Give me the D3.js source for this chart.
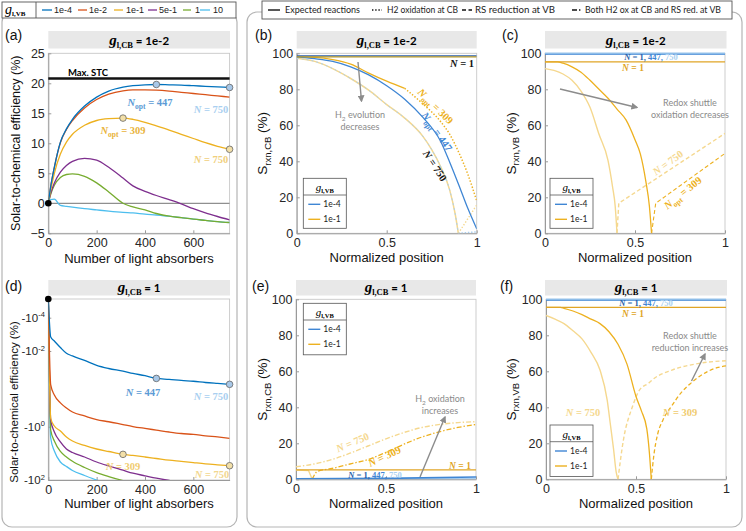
<!DOCTYPE html>
<html><head><meta charset="utf-8">
<script src="https://cdn.jsdelivr.net/npm/d3@7"></script>
<style>html,body{margin:0;padding:0;background:#fff;}svg{display:block;}</style>
</head><body>
<script>
// ================= DATA =================
const gVBLevels = ["1e-4","1e-2","1e-1","5e-1","1","10"];
const nAbs = [0,10,25,50,75,100,150,200,250,309,350,400,447,500,550,600,650,700,750];
// (a) STC efficiency (%) vs number of absorbers, g_l,CB = 1e-2
const stcA_1e4 = [0,2.8,6.0,10.2,12.4,14.0,16.2,17.7,18.7,19.35,19.6,19.75,19.8,19.75,19.7,19.6,19.5,19.4,19.3];
const stcA_1e2 = [0,2.8,6.0,10.1,12.3,13.8,15.9,17.3,18.2,18.75,18.9,18.9,18.85,18.7,18.5,18.3,18.1,17.9,17.7];
const stcA_1e1 = [0,2.2,5.0,8.2,10.2,11.5,13.0,13.8,14.1,14.2,14.0,13.5,12.9,12.2,11.5,10.8,10.1,9.5,9.0];
const stcA_5e1 = [0,1.7,3.4,5.2,6.3,7.0,7.5,7.2,6.0,4.2,2.9,2.0,1.3,0.6,-0.1,-0.9,-1.6,-2.2,-2.75];
const stcA_1   = [0,1.5,3.0,4.3,4.8,4.9,4.5,3.4,1.9,0,-0.6,-1.1,-1.7,-2.15,-2.4,-2.65,-2.85,-3.05,-3.2];
const stcA_10  = [0,0.6,0.7,-0.35,-0.5,-0.65,-0.9,-1.1,-1.3,-1.5,-1.6,-1.8,-1.95,-2.15,-2.4,-2.65,-2.85,-3.05,-3.2];
const maxSTC = 20.8;
// (d) STC efficiency (%) vs number of absorbers, g_l,CB = 1
const stcD_1e4 = [0,-1.45e-3,-2.5e-3,-6.2e-3,-1.15e-2,-1.35e-2,-1.78e-2,-2.4e-2,-2.9e-2,-3.4e-2,-3.9e-2,-4.5e-2,-5.3e-2,-5.6e-2,-6.0e-2,-6.3e-2,-6.8e-2,-7.2e-2,-7.6e-2];
const stcD_1e2 = [0,-0.079,-0.145,-0.234,-0.32,-0.41,-0.52,-0.65,-0.74,-0.88,-0.99,-1.16,-1.34,-1.58,-1.8,-1.95,-2.2,-2.43,-2.72];
const stcD_1e1 = [0,-0.6,-0.96,-1.45,-2.43,-3.44,-5.07,-6.87,-8.53,-10.9,-12.0,-13.7,-15.6,-18.1,-19.9,-22.2,-24.7,-26.9,-29.1];
const stcD_5e1 = [0,-0.67,-1.58,-3.75,-6.87,-9.3,-13.7,-21.1,-29.8,-43,-55.6,-69.5,-85.5,-104,-124,-145,-168,-191,-218];
const stcD_1   = [0,-1.33,-3.44,-8.5,-13.7,-19.9,-34,-52.7,-74,-105,-129,-160,-193,-235,-282,-333,-382,-436,-494];
const stcD_10  = [0,-2.65,-8.2,-21.1,-31.1,-44,-67.7,-100,-135,-183,-218,-270,-323,-382,-447,-513,-588,-673,-762];
// marked points [N, value, series]
const markA = [[447,19.8,"b"],[750,19.3,"b"],[309,14.2,"y"],[750,9.0,"y"]];
const markD = [[447,-5.3e-2,"b"],[750,-7.6e-2,"b"],[309,-10.9,"y"],[750,-29.1,"y"]];
// ticks
const nTicks = [0,200,400,600];
const aTicks = [-5,0,5,10,15,20,25];
const dTickExp = [-4,-2,0,2];
const posTicks = [0,0.5,1];
const pctTicks = [0,20,40,60,80,100];
// (b) S_rxn,CB vs normalized position, g_l,CB = 1e-2  [pos, %]
const bN1_1e4 = [[0,98.6],[1,98.6]];
const bN1_1e1 = [[0,98.0],[1,98.0]];
const bOpt_1e4 = [[0,98],[0.1,97],[0.2,95.5],[0.3,92.5],[0.4,88],[0.5,82],[0.6,74.5],[0.7,64.5],[0.8,51],[0.85,39.5],[0.9,27],[0.95,14],[1,2.5]];
const bOpt_1e1 = [[0,98],[0.1,97.7],[0.2,96.5],[0.3,94],[0.4,89],[0.5,84.5],[0.6,80.5]];
const bOpt_1e1_ox = [[0.6,80.5],[0.7,72],[0.8,62],[0.85,55],[0.9,45],[0.95,33],[1,18]];
const bN750 = [[0,97.2],[0.1,95.5],[0.2,91.5],[0.3,86],[0.4,79.5],[0.5,71.5],[0.6,64],[0.7,54],[0.75,46.5],[0.8,37],[0.85,24],[0.88,11],[0.898,0]];
const bN750_1e1_ox = [[0.898,0],[1,15.7]];
const bN750_1e4_ox = [[0.898,0],[1,0.8]];
// (c) S_rxn,VB, g_l,CB = 1e-2
const cTop_750 = [[0,100],[1,100]];
const cTop_447 = [[0,99.5],[1,99.5]];
const cN1_1e1 = [[0,95.2],[1,95.2]];
const cOpt_1e1 = [[0,95.2],[0.07,95.2],[0.1,94.5],[0.15,92.5],[0.2,89.5],[0.25,85],[0.3,80],[0.35,75],[0.4,69],[0.45,63],[0.5,52],[0.53,44],[0.56,29],[0.58,15],[0.592,0]];
const cOpt_1e1_red = [[0.592,0],[0.615,16.7],[1,44.4]];
const c750_1e1 = [[0,91.5],[0.05,90.5],[0.1,88.5],[0.15,85],[0.2,79],[0.25,70],[0.3,55],[0.35,40.5],[0.375,26],[0.39,15],[0.4,0]];
const c750_1e1_red = [[0.4,0],[0.41,16.7],[1,55.5]];
// (e) S_rxn,CB, g_l,CB = 1
const eN1_1e4 = [[0,0.3],[0.5,0.5],[1,1.3]];
const e750_1e4 = [[0,0.1],[1,0.3]];
const eN1_1e1 = [[0,5.2],[1,5.2]];
const e750_1e1 = [[0,7],[0.1,8.5],[0.2,11],[0.3,14.5],[0.4,18.5],[0.5,22.5],[0.6,26],[0.7,28.8],[0.8,30.5],[0.9,31.5],[1,32]];
const e309_1e1 = [[0,5.2],[0.07,4.8],[0.09,0]];
const e309_1e1_both = [[0.09,0],[0.12,4.5],[0.2,6],[0.3,8.5],[0.4,11],[0.5,15],[0.6,19.5],[0.7,23.5],[0.8,26.5],[0.9,28.8],[1,30.5]];
// (f) S_rxn,VB, g_l,CB = 1
const fTop_750 = [[0,100],[1,100]];
const fTop_447 = [[0,99.5],[1,99.5]];
const fN1_1e1 = [[0,95.5],[1,95.5]];
const f309_1e1 = [[0,95.5],[0.08,95.5],[0.1,95],[0.15,93.5],[0.2,91.5],[0.25,89],[0.3,86.5],[0.35,82],[0.4,75],[0.45,64],[0.5,46],[0.53,38],[0.56,28],[0.575,14],[0.585,0]];
const f309_1e1_red = [[0.585,0],[0.6,14],[0.62,25],[0.65,33],[0.7,41],[0.75,48],[0.8,53],[0.85,57],[0.9,60],[0.95,62],[1,63]];
const f750_1e1 = [[0,91],[0.05,89],[0.1,86.5],[0.15,82.5],[0.2,78],[0.25,70.5],[0.3,60.7],[0.34,44],[0.357,31],[0.375,17],[0.39,4],[0.4,0]];
const f750_1e1_red = [[0.4,0],[0.43,21.8],[0.48,40.3],[0.52,49.7],[0.57,53.4],[0.6,56],[0.7,60.7],[0.85,64.4],[1,65.9]];

// ================= STYLE =================
const FS = "'Liberation Sans', Arial, Helvetica, sans-serif";
const FL = "Lato, 'Open Sans', sans-serif";
const FSER = "'Liberation Serif', 'DejaVu Serif', serif";
const matlab = ["#0072BD","#D95319","#EDB120","#7E2F8E","#77AC30","#4DBEEE"];
const C = {bDark:"#2a5ea8", b:"#3f86d4", bLight:"#a9cff0", yDark:"#e0a526", y:"#EDB120", yLight:"#f5d88f", gray:"#8c8c8c"};
const DOT="1.4,1.8", DASH="4,2.5", DASHDOT="5,2,1.4,2";

const svg = d3.select("body").append("svg").attr("width",746).attr("height",531);
const defs = svg.append("defs");
defs.append("marker").attr("id","arr").attr("viewBox","0 0 10 10").attr("refX",8).attr("refY",5)
  .attr("markerWidth",5).attr("markerHeight",5).attr("orient","auto")
  .append("path").attr("d","M0,0L10,5L0,10z").attr("fill",C.gray);

function rich(g, x, y, parts, o={}) {
  const t = g.append("text").attr("x",x).attr("y",y).attr("text-anchor",o.anchor||"middle")
    .attr("fill",o.color||"#000").style("font-size",(o.size||11)+"px").style("font-family",o.family||FS)
    .style("font-weight",o.weight||"normal");
  if (o.rotate) t.attr("transform",`rotate(${o.rotate},${x},${y})`);
  parts.forEach(p => {
    const s = t.append("tspan").text(p.t);
    if (p.style) s.style("font-style",p.style);
    if (p.weight) s.style("font-weight",p.weight);
    if (p.family) s.style("font-family",p.family);
    if (p.size) s.style("font-size",p.size+"px");
    if (p.dy!==undefined) s.attr("dy",p.dy);
    if (p.fill) s.attr("fill",p.fill);
  });
  return t;
}
function labelN(g, cx, cy, sub, rest, color, o={}) {
  const sz=o.size||10.5;
  const parts=[{t:"N",style:"italic"}];
  if (sub) { parts.push({t:sub,size:sz*0.72,dy:sz*0.3}); parts.push({t:rest,dy:-sz*0.3}); }
  else parts.push({t:rest});
  return rich(g, cx, cy+sz*0.35, parts, {color, size:sz, family:FSER, weight:"bold", rotate:o.rotate, anchor:o.anchor});
}

// ---------- frames ----------
svg.append("rect").attr("x",2).attr("y",12).attr("width",235).attr("height",515).attr("rx",10)
  .attr("fill","none").attr("stroke","#b5b5b5").attr("stroke-width",1.2);
svg.append("rect").attr("x",247).attr("y",12).attr("width",495).attr("height",515).attr("rx",10)
  .attr("fill","none").attr("stroke","#b5b5b5").attr("stroke-width",1.2);

// ---------- top-left legend ----------
{
  const g = svg.append("g");
  g.append("rect").attr("x",2).attr("y",2).attr("width",234).attr("height",16).attr("fill","#fff").attr("stroke","#555").attr("stroke-width",0.9);
  rich(g, 5, 14, [{t:"g",style:"italic",family:FSER,size:14},{t:"l,VB",size:7,dy:2,weight:"bold",family:FSER}], {anchor:"start"});
  g.append("line").attr("x1",36).attr("x2",36).attr("y1",2).attr("y2",18).attr("stroke","#555").attr("stroke-width",0.9);
  const lx = [[42,52,54],[78,87,89],[114,123,126],[148,157,159],[183,191,195],[200,210,213]];
  gVBLevels.forEach((lab,i)=>{
    g.append("line").attr("x1",lx[i][0]).attr("x2",lx[i][1]).attr("y1",10).attr("y2",10).attr("stroke",matlab[i]).attr("stroke-width",1.3);
    g.append("text").attr("x",lx[i][2]).attr("y",13.3).text(lab).style("font-size","9px").style("font-family",FS).attr("fill","#222");
  });
}
// ---------- top-right legend ----------
{
  const g = svg.append("g");
  g.append("rect").attr("x",262).attr("y",1).attr("width",470).attr("height",18).attr("fill","#fff").attr("stroke","#555").attr("stroke-width",0.9);
  const items = [[268,280,285,"Expected reactions",null,75],[372,382,387,"H2 oxidation at CB",DOT,71],[462,472,475,"RS reduction at VB",DASH,80],[572,582,585,"Both H2 ox at CB and RS red. at VB",DASHDOT,136]];
  items.forEach(it=>{
    g.append("line").attr("x1",it[0]).attr("x2",it[1]).attr("y1",10).attr("y2",10).attr("stroke","#111").attr("stroke-width",1.4).attr("stroke-dasharray",it[4]);
    g.append("text").attr("x",it[2]).attr("y",13.2).text(it[3]).style("font-size","8.6px").style("font-family",FL).attr("fill","#222")
      .attr("textLength",it[5]).attr("lengthAdjust","spacingAndGlyphs");
  });
}

// ---------- panel helpers ----------
function titleBand(g, x0, x1, y0, y1, val) {
  g.append("rect").attr("x",x0).attr("y",y0).attr("width",x1-x0).attr("height",y1-y0).attr("fill","#e8e8e8");
  rich(g, (x0+x1)/2, y1-3.5, [
    {t:"g",style:"italic",family:FSER,size:15,weight:"bold"},
    {t:"l,CB",size:8.5,dy:2.5,weight:"bold",family:FSER},
    {t:" = "+val,dy:-2.5,weight:"bold",family:FL,size:11.5}], {});
}
function drawAxes(g, x, y, xT, yT, xFmt, yFmt, L, R, T, B) {
  g.append("rect").attr("x",L).attr("y",T).attr("width",R-L).attr("height",B-T).attr("fill","#fff").attr("stroke","#c8c8c8").attr("stroke-width",0.9);
  const ax = g.append("g").attr("transform",`translate(0,${B})`)
    .call(d3.axisBottom(x).tickValues(xT).tickFormat(xFmt).tickSizeInner(-3).tickSizeOuter(0).tickPadding(5));
  const ay = g.append("g").attr("transform",`translate(${L},0)`)
    .call(d3.axisLeft(y).tickValues(yT).tickFormat(yFmt).tickSizeInner(-3).tickSizeOuter(0).tickPadding(3.5));
  [ax,ay].forEach(a=>{
    a.select(".domain").attr("stroke","#9a9a9a");
    a.selectAll(".tick line").attr("stroke","#9a9a9a");
    a.selectAll("text").attr("fill","#262626").style("font-size","12.5px").style("font-family",FS);
  });
  return {ax,ay};
}
function clip(id, L, R, T, B) {
  defs.append("clipPath").attr("id",id).append("rect").attr("x",L).attr("y",T-1).attr("width",R-L).attr("height",B-T+1);
}
function line(g, data, x, y, color, o={}) {
  return g.append("path").datum(data)
    .attr("d", d3.line().x(d=>x(d[0])).y(d=>y(d[1])).curve(o.linear?d3.curveLinear:d3.curveMonotoneX))
    .attr("fill","none").attr("stroke",color).attr("stroke-width",o.w||1.3)
    .attr("stroke-dasharray",o.dash||null).attr("clip-path",o.clip?`url(#${o.clip})`:null);
}
function xLabel(g, cx, y, txt) {
  g.append("text").attr("x",cx).attr("y",y).attr("text-anchor","middle").text(txt)
    .style("font-size","13px").style("font-family",FS).attr("fill","#111");
}
function yLabelS(g, x, cy, sub) {
  rich(g, x, cy, [{t:"S"},{t:sub,size:9.5,dy:3.5},{t:" (%)",dy:-3.5}], {size:13.5, rotate:-90, color:"#111"});
}
function panelLabel(g, x, y, t) {
  g.append("text").attr("x",x).attr("y",y).text(t).style("font-size","14px").style("font-family",FS).attr("fill","#111");
}
function insetLegend(g, x, y, h) {
  g.append("rect").attr("x",x).attr("y",y).attr("width",43).attr("height",h).attr("fill","#fff").attr("stroke","#555").attr("stroke-width",0.8);
  rich(g, x+21.5, y+13, [{t:"g",style:"italic",family:FSER,size:11},{t:"l,VB",size:6.5,dy:2,weight:"bold",family:FSER}], {});
  g.append("line").attr("x1",x).attr("x2",x+43).attr("y1",y+16.7).attr("y2",y+16.7).attr("stroke","#555").attr("stroke-width",0.8);
  [[C.b,"1e-4",26],[C.y,"1e-1",41]].forEach(it=>{
    g.append("line").attr("x1",x+5).attr("x2",x+17).attr("y1",y+it[2]).attr("y2",y+it[2]).attr("stroke",it[0]).attr("stroke-width",1.4);
    g.append("text").attr("x",x+20).attr("y",y+it[2]+3).text(it[1]).style("font-size","8.5px").style("font-family",FL).attr("fill","#222");
  });
}
function arrow(g, x1, y1, x2, y2) {
  g.append("line").attr("x1",x1).attr("y1",y1).attr("x2",x2).attr("y2",y2).attr("stroke",C.gray).attr("stroke-width",1.4).attr("marker-end","url(#arr)");
}
function note(g, cx, cy, lines) {
  lines.forEach((ln,i)=>{
    const t = g.append("text").attr("x",cx).attr("y",cy+i*11.5).attr("text-anchor","middle").style("font-size","9px").style("font-family",FL).attr("fill","#8a8a8a");
    ln.forEach(p=>{ const s=t.append("tspan").text(p.t); if(p.dy!==undefined) s.attr("dy",p.dy); if(p.size) s.style("font-size",p.size+"px"); });
  });
}
function topBlueLabel(g, cx, cy) {
  const sz=8.5;
  rich(g, cx, cy+sz*0.35, [{t:"N",style:"italic",fill:C.bDark},{t:" = 1,",fill:C.bDark},{t:" 447,",fill:C.b},{t:" 750",fill:C.bLight}],
    {size:sz, family:FSER, weight:"bold"});
}

// ================= PANEL (a) =================
{
  const g = svg.append("g");
  const L=48.3,R=229.6,T=53.3,B=233.3;
  const x = d3.scaleLinear().domain([0,750]).range([L,R]);
  const y = d3.scaleLinear().domain([-5,25]).range([B,T]);
  panelLabel(g, 5, 40, "(a)");
  titleBand(g, L, R+0.4, 31, 48.5, "1e-2");
  drawAxes(g, x, y, nTicks, aTicks, d3.format("d"), d3.format("d"), L, R, T, B);
  clip("clipA", L, R, T, B);
  g.append("line").attr("x1",L).attr("x2",R).attr("y1",y(0)).attr("y2",y(0)).attr("stroke","#8f8f8f").attr("stroke-width",1.2);
  g.append("line").attr("x1",L).attr("x2",R).attr("y1",y(maxSTC)).attr("y2",y(maxSTC)).attr("stroke","#111").attr("stroke-width",2.4);
  g.append("text").attr("x",88).attr("y",y(maxSTC)-3).attr("text-anchor","middle").text("Max. STC").style("font-size","9.5px").style("font-weight","bold").style("font-family",FL);
  const series = [stcA_1e4,stcA_1e2,stcA_1e1,stcA_5e1,stcA_1,stcA_10];
  [5,4,3,1,2,0].forEach(i=>{ line(g, nAbs.map((n,k)=>[n,series[i][k]]), x, y, matlab[i], {clip:"clipA"}); });
  markA.forEach(m=>{
    g.append("circle").attr("cx",x(m[0])).attr("cy",y(m[1])).attr("r",3.3)
      .attr("fill",m[2]==="b"?"#a8c8e8":"#f2dfa8").attr("stroke","#666").attr("stroke-width",0.8);
  });
  g.append("circle").attr("cx",x(0)).attr("cy",y(0)).attr("r",3.3).attr("fill","#000");
  labelN(g, 150, 102, "opt", " = 447", "#5b9bd5");
  labelN(g, 211, 109, null, " = 750", C.bLight);
  labelN(g, 123, 130, "opt", " = 309", "#e9b43c");
  labelN(g, 211, 159, null, " = 750", "#f0cf7c");
  xLabel(g, (L+R)/2, 263, "Number of light absorbers");
  g.append("text").attr("transform",`translate(19.5,${(T+B)/2}) rotate(-90)`).attr("text-anchor","middle")
    .text("Solar-to-chemical efficiency (%)").style("font-size","12.5px").style("font-family",FS).attr("fill","#111");
}

// ================= PANEL (d) =================
{
  const g = svg.append("g");
  const L=48.3,R=229.6,T=299,B=480;
  const x = d3.scaleLinear().domain([0,750]).range([L,R]);
  const sLog = d3.scaleLinear().domain([-5.12,-4,-2,0,2]).range([T,317.7,351,426.7,B]);
  const y = v => v===0 ? sLog(-5.12) : sLog(Math.log10(-v));
  panelLabel(g, 5, 291, "(d)");
  titleBand(g, L, R+0.4, 280, 295.5, "1");
  const {ay} = drawAxes(g, x, sLog, nTicks, dTickExp, d3.format("d"), ()=>"", L, R, T, B);
  ay.selectAll(".tick text").each(function(d){
    const t=d3.select(this); t.text(null).style("font-size","11.5px");
    t.append("tspan").text("-10");
    t.append("tspan").text(String(d)).attr("dy",-4.5).style("font-size","7.5px");
  });
  clip("clipD", L, R, T, B);
  const series = [stcD_1e4,stcD_1e2,stcD_1e1,stcD_5e1,stcD_1,stcD_10];
  [5,4,3,2,1,0].forEach(i=>{ line(g, nAbs.map((n,k)=>[n,series[i][k]]), x, y, matlab[i], {clip:"clipD"}); });
  markD.forEach(m=>{
    g.append("circle").attr("cx",x(m[0])).attr("cy",y(m[1])).attr("r",3.3)
      .attr("fill",m[2]==="b"?"#a8c8e8":"#f2dfa8").attr("stroke","#666").attr("stroke-width",0.8);
  });
  g.append("circle").attr("cx",x(0)).attr("cy",y(0)).attr("r",3.3).attr("fill","#000");
  labelN(g, 143, 392, null, " = 447", "#5b9bd5");
  labelN(g, 211, 396, null, " = 750", C.bLight);
  labelN(g, 123, 466, null, " = 309", "#f0cc70");
  labelN(g, 212, 474, null, " = 750", "#f2d790");
  xLabel(g, (L+R)/2, 508, "Number of light absorbers");
  g.append("text").attr("transform",`translate(18,${402}) rotate(-90)`).attr("text-anchor","middle")
    .text("Solar-to-chemical efficiency (%)").style("font-size","11.5px").style("font-family",FS).attr("fill","#111");
}

// ================= PANEL (b) =================
{
  const g = svg.append("g");
  const L=296.7,R=476.7,T=53.3,B=233.3;
  const x = d3.scaleLinear().domain([0,1]).range([L,R]);
  const y = d3.scaleLinear().domain([0,100]).range([B,T]);
  panelLabel(g, 255, 40, "(b)");
  titleBand(g, L, R, 31, 48.5, "1e-2");
  drawAxes(g, x, y, posTicks, pctTicks, d3.format("~g"), d3.format("d"), L, R, T, B);
  clip("clipB", L, R, T, B);
  const k="clipB";
  line(g, bN750, x, y, C.yLight, {clip:k, w:1.5});
  line(g, bN750, x, y, C.bLight, {clip:k, w:1, dash:"2,3"});
  line(g, bN750_1e1_ox, x, y, C.yLight, {clip:k, w:1.4, dash:DOT, linear:true});
  line(g, bN750_1e4_ox, x, y, C.bLight, {clip:k, w:1.4, dash:DOT, linear:true});
  line(g, bOpt_1e1, x, y, C.y, {clip:k});
  line(g, bOpt_1e1_ox, x, y, C.y, {clip:k, dash:DOT, w:1.5});
  line(g, bOpt_1e4, x, y, C.b, {clip:k});
  line(g, bN1_1e4, x, y, C.bDark, {clip:k, linear:true});
  line(g, bN1_1e1, x, y, "#b89a2a", {clip:k, linear:true, w:1.4});
  labelN(g, 462, 63, null, " = 1", "#111");
  labelN(g, 433, 105, "opt", " = 309", C.y, {rotate:45});
  labelN(g, 434, 130, "opt", " = 447", C.b, {rotate:55});
  labelN(g, 432, 164, null, " = 750", "#111", {rotate:57});
  arrow(g, 358, 62, 361.5, 101);
  note(g, 360, 118, [[{t:"H"},{t:"2",size:6.5,dy:2.5},{t:" evolution",dy:-2.5}],[{t:"decreases"}]]);
  insetLegend(g, 303.3, 178.3, 50);
  xLabel(g, (L+R)/2, 262, "Normalized position");
  yLabelS(g, 267.5, (T+B)/2, "rxn,CB");
}

// ================= PANEL (c) =================
{
  const g = svg.append("g");
  const L=545,R=725,T=53.3,B=233.3;
  const x = d3.scaleLinear().domain([0,1]).range([L,R]);
  const y = d3.scaleLinear().domain([0,100]).range([B,T]);
  panelLabel(g, 502, 40, "(c)");
  titleBand(g, L, R+1.5, 31, 48.5, "1e-2");
  drawAxes(g, x, y, posTicks, pctTicks, d3.format("~g"), d3.format("d"), L, R, T, B);
  const k="clipC"; clip(k, L, R, T, B);
  line(g, c750_1e1, x, y, C.yLight, {clip:k, w:1.4});
  line(g, c750_1e1_red, x, y, C.yLight, {clip:k, w:1.4, dash:DASH, linear:true});
  line(g, cOpt_1e1, x, y, C.y, {clip:k});
  line(g, cOpt_1e1_red, x, y, C.y, {clip:k, dash:DASH, linear:true, w:1.1});
  line(g, cN1_1e1, x, y, C.yDark, {clip:k, linear:true});
  line(g, cTop_750, x, y, C.bLight, {clip:k, linear:true, w:2});
  line(g, cTop_447, x, y, C.b, {clip:k, linear:true, w:1.1});
  topBlueLabel(g, 651, 57.5);
  labelN(g, 633, 67.5, null, " = 1", C.yDark, {size:9.5});
  labelN(g, 670, 162, null, " = 750", C.yLight, {rotate:-36});
  labelN(g, 685, 192, "opt", " = 309", C.y, {rotate:-39});
  arrow(g, 560, 89, 637, 107.5);
  note(g, 690, 106, [[{t:"Redox shuttle"}],[{t:"oxidation decreases"}]]);
  insetLegend(g, 550, 178.3, 50);
  xLabel(g, (L+R)/2, 262, "Normalized position");
  yLabelS(g, 516, (T+B)/2, "rxn,VB");
}

// ================= PANEL (e) =================
{
  const g = svg.append("g");
  const L=296,R=476,T=299.3,B=479.3;
  const x = d3.scaleLinear().domain([0,1]).range([L,R]);
  const y = d3.scaleLinear().domain([0,100]).range([B,T]);
  panelLabel(g, 252, 291, "(e)");
  titleBand(g, L, R, 280, 295.5, "1");
  drawAxes(g, x, y, posTicks, pctTicks, d3.format("~g"), d3.format("d"), L, R, T, B);
  const k="clipE"; clip(k, L, R, T, B);
  line(g, e750_1e1, x, y, C.yLight, {clip:k, w:1.4, dash:DASHDOT});
  line(g, e309_1e1, x, y, C.yLight, {clip:k, w:1.4, linear:true});
  line(g, e309_1e1_both, x, y, C.y, {clip:k, w:1.3, dash:DASHDOT});
  line(g, eN1_1e1, x, y, C.yDark, {clip:k, linear:true});
  line(g, e750_1e4, x, y, C.bLight, {clip:k, linear:true, w:1.5});
  line(g, eN1_1e4, x, y, C.b, {clip:k, w:1.6});
  topBlueLabel(g, 375, 475);
  labelN(g, 460, 466, null, " = 1", C.yDark, {size:9.5});
  labelN(g, 354, 442, null, " = 750", C.yLight, {rotate:-23});
  labelN(g, 386, 456, null, " = 309", C.y, {rotate:-25});
  arrow(g, 420, 477, 445, 417);
  note(g, 440, 402, [[{t:"H"},{t:"2",size:6.5,dy:2.5},{t:" oxidation",dy:-2.5}],[{t:"increases"}]]);
  insetLegend(g, 303.3, 303.3, 51.5);
  xLabel(g, (L+R)/2, 508, "Normalized position");
  yLabelS(g, 267.5, (T+B)/2, "rxn,CB");
}

// ================= PANEL (f) =================
{
  const g = svg.append("g");
  const L=546,R=726,T=299.3,B=479.3;
  const x = d3.scaleLinear().domain([0,1]).range([L,R]);
  const y = d3.scaleLinear().domain([0,100]).range([B,T]);
  panelLabel(g, 500, 291, "(f)");
  titleBand(g, L-1, R+1, 280, 295.5, "1");
  drawAxes(g, x, y, posTicks, pctTicks, d3.format("~g"), d3.format("d"), L, R, T, B);
  const k="clipF"; clip(k, L, R, T, B);
  line(g, f750_1e1, x, y, C.yLight, {clip:k, w:1.4});
  line(g, f750_1e1_red, x, y, C.yLight, {clip:k, w:1.4, dash:DASH});
  line(g, f309_1e1, x, y, C.y, {clip:k});
  line(g, f309_1e1_red, x, y, C.y, {clip:k, dash:DASH});
  line(g, fN1_1e1, x, y, C.yDark, {clip:k, linear:true});
  line(g, fTop_750, x, y, C.bLight, {clip:k, linear:true, w:2});
  line(g, fTop_447, x, y, C.b, {clip:k, linear:true, w:1.1});
  topBlueLabel(g, 646, 303);
  labelN(g, 633, 313.5, null, " = 1", C.yDark, {size:9.5});
  labelN(g, 583, 412, null, " = 750", C.yLight);
  labelN(g, 680, 412, null, " = 309", "#f0cc70");
  arrow(g, 691.5, 381, 705, 354);
  note(g, 690, 339, [[{t:"Redox shuttle"}],[{t:"reduction increases"}]]);
  insetLegend(g, 550, 425, 51.5);
  xLabel(g, (L+R)/2, 508, "Normalized position");
  yLabelS(g, 516, (T+B)/2, "rxn,VB");
}
</script>
</body></html>
